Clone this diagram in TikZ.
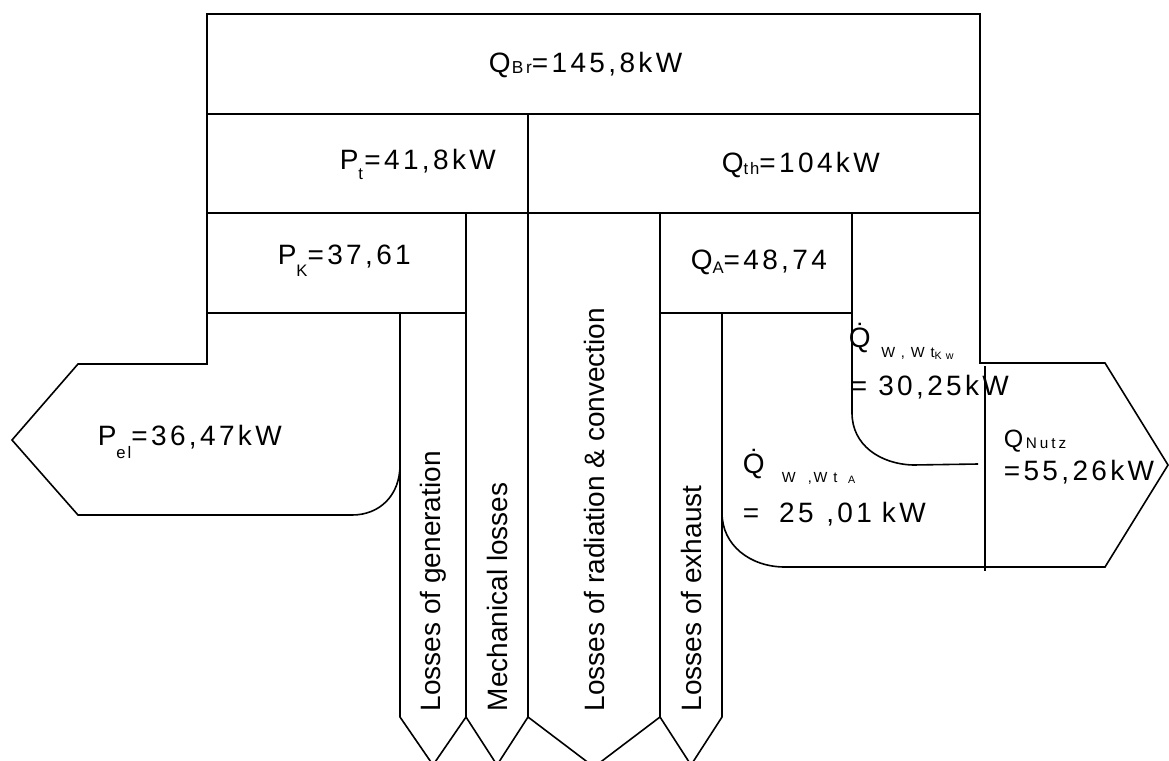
\documentclass[tikz,border=0pt]{standalone}
\usepackage{fontspec}
\setmainfont{Liberation Sans}
\newfontfamily\largo[LetterSpace=19]{Liberation Sans}
\newfontfamily\medio[LetterSpace=12]{Liberation Sans}
\usepackage{tikz}
\newcommand{\pedice}[3]{\raisebox{-#1pt}{\fontsize{#2}{#2}\selectfont #3}}

\begin{document}
\begin{tikzpicture}[x=0.75pt, y=-0.75pt, line width=1.2pt]
    % Stili
    \tikzstyle{valore} = [inner sep=0pt, anchor=base west, font=\medio\fontsize{21}{25}\selectfont]
    \tikzstyle{riga} = [inner sep=0pt, anchor=base west]
    \tikzstyle{perdita} = [inner sep=0pt, rotate=90, anchor=west, font=\fontsize{21}{25}\selectfont]

    \useasboundingbox (0,0) rectangle (1169,760);
    \clip (0,0) rectangle (1169,760);

    % Contorno del flusso
    \draw (207,313) -- (207,14) -- (980,14) -- (980,363) -- (1105,363) -- (1168,465) -- (1105,567) -- (785,567)
        .. controls (750,567) and (722,545) .. (722,513) -- (722,717) -- (691,765) -- (660,717) -- (594,767)
        -- (528,717) -- (497,765) -- (466,717) -- (433,765) -- (400,717) -- (400,465)
        .. controls (400,495) and (380,515) .. (352,515) -- (78,515) -- (12,440) -- (78,364) -- (207,364) -- cycle;

    % Divisioni
    \draw (207,114) -- (980,114);
    \draw (207,213) -- (980,213);
    \draw (528,114) -- (528,717);
    \draw (466,213) -- (466,717);
    \draw (660,213) -- (660,717);
    \draw (207,313) -- (466,313);
    \draw (660,313) -- (852,313);
    \draw (400,313) -- (400,465);
    \draw (722,313) -- (722,513);
    \draw (852,213) -- (852,413) .. controls (852,445) and (880,464) .. (913,465) -- (978,464);
    \draw (985,366) -- (985,571);

    % Valori
    \node[valore] (qbr) at (488,72) {Q\kern1pt\pedice{1}{13}{B\kern2pt r}=145,8kW};
    \node[valore] (pt) at (339,169) {P\pedice{8}{12.5}{t}\kern1pt=41,8kW};
    \node[valore] (qth) at (721,172) {Q\pedice{2}{12.5}{th}=104kW};
    \node[valore] (pk) at (277,264) {P\pedice{9}{12.5}{K}=37,61};
    \node[valore] (qa) at (690,269) {Q\pedice{3}{12.5}{A}=48,74};
    \node[valore] (pel) at (97,445) {P\pedice{10}{12.5}{el}=36,47kW};

    \node[riga, font=\fontsize{21}{25}\selectfont] (qkw) at (848,347)
        {\.{Q}\hspace{8pt}{\medio\pedice{7.5}{11}{W , W t}\pedice{9}{8}{K w}}};
    \node[riga, font=\medio\fontsize{21}{25}\selectfont] (qkwv) at (850,395) {= 30,25kW};

    \node[riga, font=\fontsize{21}{25}\selectfont] (qwa) at (742,473)
        {\.{Q}\hspace{13pt}{\medio\pedice{7}{11}{W\hspace{9pt},W t}\hspace{8pt}\pedice{8}{8}{A}}};
    \node[riga, font=\medio\fontsize{21}{25}\selectfont] (qwav) at (742,522)
        {=\hspace{15pt}25\hspace{9.5pt},01\hspace{7.5pt}kW};

    \node[riga, font=\medio\fontsize{18.75}{22}\selectfont] (qnutz) at (1003,447)
        {Q\hspace{2pt}{\largo\pedice{1}{11.5}{Nutz}}};
    \node[riga, font=\medio\fontsize{21}{25}\selectfont] (qnutzv) at (1003,480) {=55,26kW};

    % Perdite
    \node[perdita] (lgen) at (433,712) {Losses of generation};
    \node[perdita] (lmec) at (497,712) {Mechanical losses};
    \node[perdita] (lrad) at (594,712) {Losses of radiation \& convection};
    \node[perdita] (lexh) at (691,712) {Losses of exhaust};
\end{tikzpicture}
\end{document}
